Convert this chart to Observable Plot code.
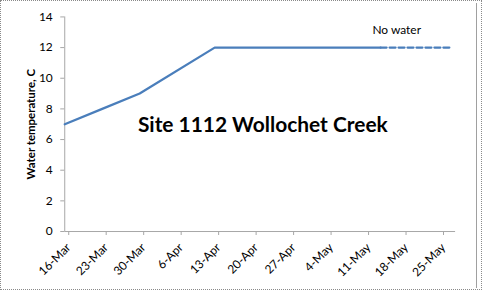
<!DOCTYPE html>
<html>
<head>
<meta charset="utf-8">
<script src="https://cdn.jsdelivr.net/npm/d3@7"></script>
<script src="https://cdn.jsdelivr.net/npm/@observablehq/plot@0.6"></script>
<style>
  html, body { margin: 0; padding: 0; background: #fff; }
  #frame {
    position: relative;
    width: 482px; height: 290px;
    box-sizing: border-box;
    border: 1px dotted #8a8a8a;
    overflow: hidden;
  }
  #frame .edge {
    position: absolute; left: 475px; top: 2px; width: 1px; height: 285px;
    background: #a0a0a0;
  }
  #frame svg { position: absolute; left: -1px; top: -1px; }
  g[aria-label="y-axis label"] text { font-weight: bold; font-size: 11.5px; }
</style>
</head>
<body>
<div id="frame"><div class="edge"></div></div>
<script>
// Weekly water temperature readings, Site 1112 Wollochet Creek
const readingDates = ["2011-03-16", "2011-03-23", "2011-03-30", "2011-04-13", "2011-05-14"];
const readingTemps = [7, 8, 9, 12, 12];

// Period with no water in the creek (shown dashed)
const dryDates = ["2011-05-14", "2011-05-27"];
const dryTemps = [12, 12];

const tickDates = ["2011-03-16", "2011-03-23", "2011-03-30", "2011-04-06", "2011-04-13",
  "2011-04-20", "2011-04-27", "2011-05-04", "2011-05-11", "2011-05-18", "2011-05-25"];
const yTicks = [0, 2, 4, 6, 8, 10, 12, 14];

const chartTitle = "Site 1112 Wollochet Creek";
const dryNote = "No water";
const yLabel = "Water temperature, C";

const parse = d3.utcParse("%Y-%m-%d");
const readings = readingDates.map((d, i) => ({date: parse(d), temp: readingTemps[i]}));
const dry = dryDates.map((d, i) => ({date: parse(d), temp: dryTemps[i]}));
const ticks = tickDates.map(parse);

const axisGray = "#a6a6a6";
const lineBlue = "#4a7ebb";

const chart = Plot.plot({
  width: 482,
  height: 290,
  marginLeft: 64.5,
  marginRight: 25,
  marginTop: 16.5,
  marginBottom: 58,
  style: {fontFamily: "Lato, 'Open Sans', sans-serif", fontSize: "12px", background: "transparent", color: "#000"},
  x: {type: "utc", domain: [parse("2011-03-16"), parse("2011-05-28")]},
  y: {domain: [0, 14]},
  marks: [
    Plot.ruleY([0], {stroke: axisGray}),
    Plot.ruleX([parse("2011-03-16")], {stroke: axisGray}),
    Plot.axisX({
      ticks: ticks,
      tickFormat: d3.utcFormat("%-d-%b"),
      tickRotate: -45,
      tickSize: 4,
      tickPadding: 10,
      dx: 4,
      stroke: axisGray,
      fill: "#000",
      label: null
    }),
    Plot.axisY({
      ticks: yTicks,
      tickSize: 4,
      tickPadding: 8,
      stroke: axisGray,
      fill: "#000",
      label: yLabel,
      labelAnchor: "center",
      labelArrow: "none",
      labelOffset: 38
    }),
    Plot.line(readings, {x: "date", y: "temp", stroke: lineBlue, strokeWidth: 2.25}),
    Plot.line(dry, {x: "date", y: "temp", stroke: lineBlue, strokeWidth: 2.25, strokeDasharray: "6,3"}),
    Plot.text([dryNote], {
      x: parse("2011-05-17"), y: 13.15,
      text: d => d, fontSize: 12, fill: "#000"
    }),
    Plot.text([chartTitle], {
      x: parse("2011-04-22"), y: 6.95,
      text: d => d, fontSize: 21, fontWeight: "bold", fill: "#000"
    })
  ]
});

document.getElementById("frame").appendChild(chart);
</script>
</body>
</html>
